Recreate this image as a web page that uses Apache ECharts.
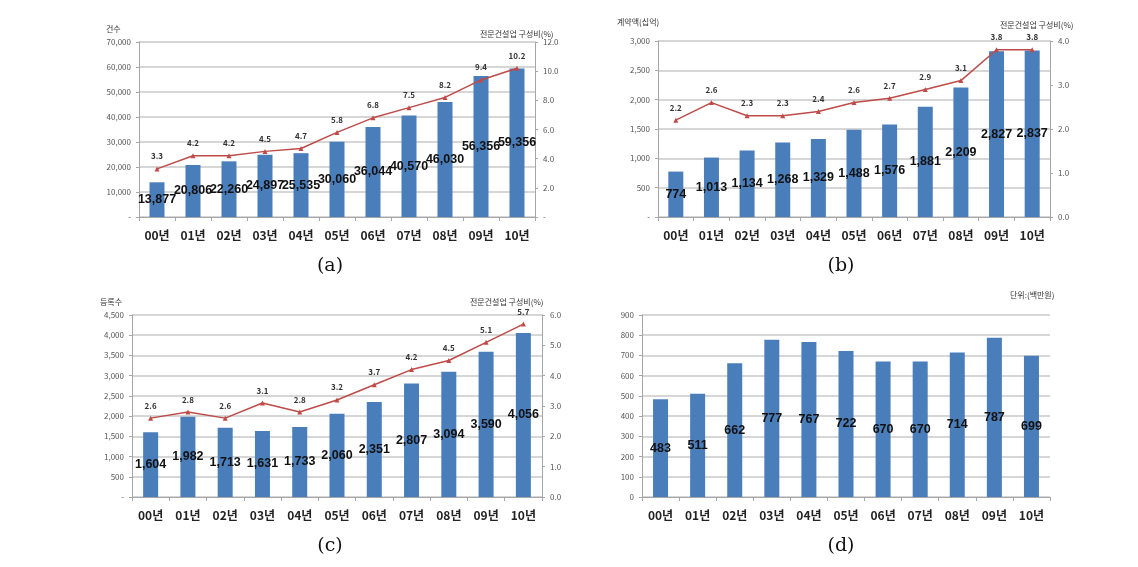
<!DOCTYPE html>
<html><head><meta charset="utf-8">
<script src="https://cdn.jsdelivr.net/npm/echarts@6/dist/echarts.min.js"></script>
<style>html,body{margin:0;padding:0;background:#fff}#c{width:1138px;height:567px}</style>
</head><body><div id="c"></div>
<script>
const categories = ['00년','01년','02년','03년','04년','05년','06년','07년','08년','09년','10년'];
const countA = [13877,20806,22260,24897,25535,30060,36044,40570,46030,56356,59356];
const ratioA = [3.3,4.2,4.2,4.5,4.7,5.8,6.8,7.5,8.2,9.4,10.2];
const amountB = [774,1013,1134,1268,1329,1488,1576,1881,2209,2827,2837];
const ratioB = [2.2,2.6,2.3,2.3,2.4,2.6,2.7,2.9,3.1,3.8,3.8];
const countC = [1604,1982,1713,1631,1733,2060,2351,2807,3094,3590,4056];
const ratioC = [2.6,2.8,2.6,3.1,2.8,3.2,3.7,4.2,4.5,5.1,5.7];
const valueD = [483,511,662,777,767,722,670,670,714,787,699];

const FONT = '"Noto Sans CJK KR", "Noto Sans", sans-serif';
const LABFONT = '"Liberation Sans", Arial, sans-serif';
const BLUE = '#4a7ebb', RED = '#be4b48', GRID = '#c8c8c8', AX = '#a6a6a6';
const fmtNum = v => v === 0 ? '-' : v.toLocaleString('en-US');

const grids = [
  {left:139, right:603, top:42, height:175},
  {left:658, right:88, top:41, height:176},
  {left:132, right:596, top:315, height:182},
  {left:642, right:88, top:315, height:182}
];
const xAxes = grids.map((g,i)=>({
  type:'category', gridIndex:i, data:categories,
  axisLine:{lineStyle:{color:AX}}, axisTick:{show:true,length:4,lineStyle:{color:AX}},
  axisLabel:{fontFamily:FONT, fontWeight:'bold', fontSize:12, color:'#222', margin:12}
}));
function leftAxis(i,max,interval,fmt){
  return {type:'value', gridIndex:i, min:0, max:max, interval:interval, position:'left',
    axisLine:{show:true, lineStyle:{color:AX}}, axisTick:{show:true,length:3,lineStyle:{color:AX}},
    splitLine:{lineStyle:{color:GRID, width:1.5}},
    axisLabel:{fontFamily:FONT, fontSize:8, color:'#555', margin:8, formatter:fmt}};
}
function rightAxis(i,max,interval,fmt){
  return {type:'value', gridIndex:i, min:0, max:max, interval:interval, position:'right',
    axisLine:{show:true, lineStyle:{color:AX}}, axisTick:{show:true,length:3,lineStyle:{color:AX}},
    splitLine:{show:false},
    axisLabel:{fontFamily:FONT, fontSize:8, color:'#555', margin:8, formatter:fmt}};
}
const yAxes = [
  leftAxis(0,70000,10000,fmtNum),
  rightAxis(0,12,2,v=> v===0?'-':v.toFixed(1)),
  leftAxis(1,3000,500,fmtNum),
  rightAxis(1,4,1,v=>v.toFixed(1)),
  leftAxis(2,4500,500,fmtNum),
  rightAxis(2,6,1,v=>v.toFixed(1)),
  leftAxis(3,900,100,v=>String(v))
];
function bar(xi,yi,data){
  return {type:'bar', xAxisIndex:xi, yAxisIndex:yi, data:data, barWidth:15,
    itemStyle:{color:BLUE}, z:2,
    label:{show:true, position:'inside', fontFamily:LABFONT, fontWeight:'bold', fontSize:12.5, color:'#111',
      formatter:p=>p.value.toLocaleString('en-US')}};
}
function line(xi,yi,data){
  return {type:'line', xAxisIndex:xi, yAxisIndex:yi, data:data, z:3,
    lineStyle:{color:RED, width:1.5}, itemStyle:{color:RED},
    symbol:'triangle', symbolSize:5,
    label:{show:true, position:'top', distance:6, fontFamily:FONT, fontWeight:'bold', fontSize:8, color:'#333',
      formatter:p=>p.value.toFixed(1)}};
}
const series = [
  bar(0,0,countA), line(0,1,ratioA),
  bar(1,2,amountB), line(1,3,ratioB),
  bar(2,4,countC), line(2,5,ratioC),
  bar(3,6,valueD)
];
function txt(x,y,t,opt){
  return Object.assign({type:'text', left:x, top:y, silent:true,
    style:{text:t, fontFamily:FONT, fontSize:8, fill:'#333'}}, opt||{});
}
function cap(x,y,t){
  return {type:'text', x:x, y:y, silent:true,
    style:{text:t, fontFamily:'"DejaVu Serif", serif', fontSize:19, fill:'#111', align:'center', verticalAlign:'middle'}};
}
const graphic = [
  txt(106,25,'건수'),
  txt(480,30,'전문건설업 구성비(%)'),
  txt(617,18,'계약액(십억)'),
  txt(1000,21,'전문건설업 구성비(%)'),
  txt(100,298,'등록수'),
  txt(470,298,'전문건설업 구성비(%)'),
  txt(1010,291,'단위:(백만원)'),
  cap(330,266,'(a)'),
  cap(841,266,'(b)'),
  cap(330,546,'(c)'),
  cap(841,546,'(d)')
];
const chart = echarts.init(document.getElementById('c'), null, {renderer:'canvas'});
chart.setOption({animation:false, grid:grids, xAxis:xAxes, yAxis:yAxes, series:series, graphic:graphic});
</script></body></html>
